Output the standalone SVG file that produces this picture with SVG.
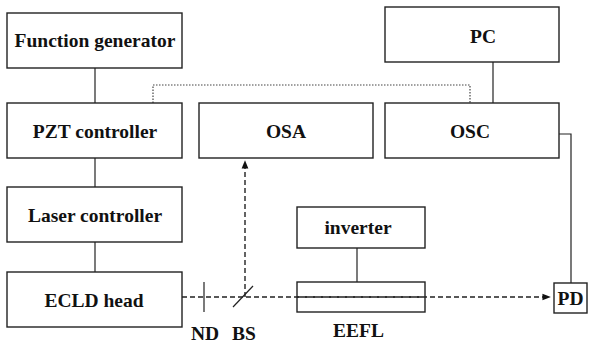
<svg xmlns="http://www.w3.org/2000/svg" width="589" height="345" viewBox="0 0 589 345">
  <style>
    .box { fill: #fff; stroke: #222; stroke-width: 1.4; }
    .lbl { font-weight: bold; font-size: 19.5px; fill: #111; text-anchor: middle; }
    .wire { fill: none; stroke: #222; stroke-width: 1.2; }
    .beam { fill: none; stroke: #222; stroke-width: 1.4; stroke-dasharray: 5 3; }
    .bus { fill: none; stroke: #444; stroke-width: 1.2; stroke-dasharray: 1.5 1.5; }
  </style>
  <defs>
    <marker id="arrow" viewBox="0 0 10 10" refX="9" refY="5" markerWidth="6" markerHeight="6" orient="auto">
      <path d="M0,1 L10,5 L0,9 z" fill="#111"/>
    </marker>
  </defs>
  <rect width="589" height="345" fill="#fff"/>

  <g id="connectors">
    <line class="wire" x1="95" y1="68" x2="95" y2="103"/>
    <line class="wire" x1="95" y1="158" x2="95" y2="187"/>
    <line class="wire" x1="95" y1="242" x2="95" y2="272"/>
    <line class="wire" x1="493" y1="62" x2="493" y2="103"/>
    <polyline class="bus" points="153,103 153,85 470,85 470,103"/>
    <polyline class="wire" points="559,134 571,134 571,283"/>
    <line class="wire" x1="357" y1="248" x2="357" y2="282"/>
    <line class="beam" x1="182" y1="297" x2="550" y2="297" marker-end="url(#arrow)"/>
    <line class="beam" x1="245" y1="297" x2="245" y2="161" marker-end="url(#arrow)"/>
  </g>

  <g font-family="'Liberation Serif', 'Times New Roman', Times, serif">
  <g id="function-generator">
    <rect class="box" x="7" y="13" width="175" height="55"/>
    <text class="lbl" x="95" y="47">Function generator</text>
  </g>
  <g id="pzt-controller">
    <rect class="box" x="7" y="103" width="175" height="55"/>
    <text class="lbl" x="95" y="138">PZT controller</text>
  </g>
  <g id="laser-controller">
    <rect class="box" x="7" y="187" width="175" height="55"/>
    <text class="lbl" x="95" y="222">Laser controller</text>
  </g>
  <g id="ecld-head">
    <rect class="box" x="7" y="272" width="175" height="55"/>
    <text class="lbl" x="94" y="307">ECLD head</text>
  </g>
  <g id="osa">
    <rect class="box" x="199" y="103" width="174" height="55"/>
    <text class="lbl" x="286" y="138">OSA</text>
  </g>
  <g id="pc">
    <rect class="box" x="385" y="7" width="174" height="55"/>
    <text class="lbl" x="483" y="43">PC</text>
  </g>
  <g id="osc">
    <rect class="box" x="385" y="103" width="174" height="55"/>
    <text class="lbl" x="470" y="138">OSC</text>
  </g>
  <g id="inverter">
    <rect class="box" x="297" y="207" width="128" height="41"/>
    <text class="lbl" x="358" y="234">inverter</text>
  </g>
  <g id="eefl">
    <rect class="box" x="297" y="282" width="128" height="30" fill-opacity="0"/>
    <line class="beam" x1="297" y1="297" x2="425" y2="297"/>
    <text class="lbl" x="358.5" y="337">EEFL</text>
  </g>
  <g id="nd">
    <line class="wire" x1="204" y1="282" x2="204" y2="312" stroke-width="1.4"/>
    <text class="lbl" x="205" y="340">ND</text>
  </g>
  <g id="bs">
    <line class="wire" x1="233" y1="307" x2="253" y2="286" stroke-width="1.4"/>
    <text class="lbl" x="244" y="340">BS</text>
  </g>
  <g id="pd">
    <rect class="box" x="554" y="283" width="33" height="30"/>
    <text class="lbl" x="570.5" y="305">PD</text>
  </g>
  </g>
</svg>
